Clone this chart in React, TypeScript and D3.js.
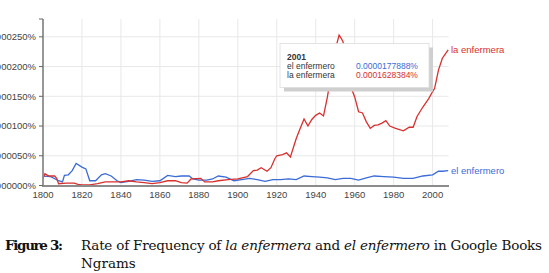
import { scaleLinear, line } from "d3";

const width = 549;
const height = 273;

// Google Books Ngram values, in percent
const redYears = [
  1800, 1801, 1803, 1806, 1807, 1808, 1812, 1816, 1818, 1820, 1824, 1828, 1832, 1836, 1840,
  1844, 1848, 1852, 1856, 1860, 1864, 1868, 1871, 1874, 1876, 1881, 1883, 1887, 1890, 1895,
  1900, 1905, 1908, 1910, 1912, 1915, 1917, 1919, 1920, 1923, 1925, 1927, 1930, 1932, 1934,
  1936, 1938, 1940, 1942, 1944, 1946, 1948, 1950, 1952, 1953, 1954, 1956, 1958, 1960, 1962,
  1964, 1966, 1968, 1970, 1972, 1974, 1976, 1978, 1981, 1985, 1988, 1990, 1992, 1995, 1998,
  2000, 2001, 2003, 2005, 2008,
];
const redValues = [
  0.000012, 0.00002, 0.000016, 0.000016, 0.000012, 0.000003, 0.000004, 0.000004, 0.000002,
  0.000001, 0.000001, 0.000003, 0.000006, 0.000006, 0.000006, 0.000008, 0.000006, 0.000005,
  0.000003, 0.000005, 0.000008, 0.000008, 0.000005, 0.000004, 0.000011, 0.000012, 0.000006,
  0.000006, 0.000008, 0.00001, 0.000011, 0.000015, 0.000025, 0.000026, 0.00003, 0.000024,
  0.00003, 0.000045, 0.00005, 0.000052, 0.000055, 0.000048, 0.000079, 0.000096, 0.000112,
  0.0001, 0.000111, 0.000118, 0.000122, 0.000117, 0.000149, 0.000189, 0.000228, 0.000253,
  0.000248, 0.000242, 0.000205, 0.000166, 0.000149, 0.000124, 0.000122, 0.000107, 0.000096,
  0.000101, 0.000102, 0.000105, 0.000109, 0.0001, 0.000096, 0.000092, 0.000098, 0.000098,
  0.000116, 0.000132, 0.000146, 0.000158, 0.000163, 0.000194, 0.000214, 0.000228,
];

const blueYears = [
  1800, 1804, 1808, 1810, 1811, 1813, 1815, 1817, 1820, 1822, 1824, 1827, 1830, 1832, 1835,
  1838, 1840, 1844, 1848, 1852, 1856, 1860, 1864, 1868, 1871, 1875, 1877, 1880, 1884, 1887,
  1890, 1894, 1898, 1902, 1906, 1910, 1914, 1918, 1922, 1926, 1930, 1934, 1938, 1942, 1946,
  1950, 1954, 1958, 1962, 1966, 1970, 1975, 1980, 1985, 1990, 1995, 2000, 2003, 2005, 2008,
];
const blueValues = [
  0.000016, 0.000015, 0.000008, 0.000006, 0.000017, 0.000018, 0.000025, 0.000037, 0.000031,
  0.000028, 0.000008, 0.000008, 0.000018, 0.00002, 0.000016, 0.000008, 0.000005, 0.000007,
  0.00001, 0.000009, 0.000007, 0.000008, 0.000017, 0.000015, 0.000016, 0.000016, 0.000011,
  0.000009, 0.000009, 0.000011, 0.000016, 0.000014, 0.000008, 0.00001, 0.000012, 0.00001,
  0.000007, 0.00001, 0.00001, 0.000011, 0.00001, 0.000016, 0.000015, 0.000014, 0.000013,
  0.00001, 0.000012, 0.000012, 0.000009, 0.000013, 0.000016, 0.000015, 0.000014, 0.000012,
  0.000012, 0.000016, 0.000018, 0.000024, 0.000024, 0.000025,
];

const yTicks = [0, 0.00005, 0.0001, 0.00015, 0.0002, 0.00025];
const xTicks = [1800, 1820, 1840, 1860, 1880, 1900, 1920, 1940, 1960, 1980, 2000];

const redColor = "#d8302e";
const blueColor = "#3b6bd6";
const sans = "'Liberation Sans', Arial, sans-serif";
const serif = "'DejaVu Serif', serif";

const x = scaleLinear().domain([1800, 2008]).range([43, 448.2]);
const y = scaleLinear().domain([0, 0.00028]).range([185.5, 19]);

const toPoints = (years: number[], values: number[]) =>
  years.map((yr, i) => [yr, values[i]] as [number, number]);

const path = line<[number, number]>()
  .x((d) => x(d[0]))
  .y((d) => y(d[1]));

export default function App() {
  const red = toPoints(redYears, redValues);
  const blue = toPoints(blueYears, blueValues);
  const redLast = red[red.length - 1];
  const blueLast = blue[blue.length - 1];

  return (
    <svg
      width={width}
      height={height}
      style={{ position: "absolute", left: 0, top: 0, background: "#fff" }}
    >
      {/* grid */}
      {xTicks.slice(1).map((t) => (
        <line key={t} x1={x(t)} x2={x(t)} y1={19} y2={185.5} stroke="#e8e8e8" />
      ))}
      {yTicks.slice(1).map((t) => (
        <line key={t} x1={43} x2={448.5} y1={y(t)} y2={y(t)} stroke="#e8e8e8" />
      ))}

      {/* series */}
      <path d={path(blue) ?? ""} fill="none" stroke={blueColor} strokeWidth={1.3} />
      <path d={path(red) ?? ""} fill="none" stroke={redColor} strokeWidth={1.3} />

      {/* axes */}
      <line x1={43} x2={43} y1={19} y2={186} stroke="#8c8c8c" strokeWidth={1.8} />
      <line x1={42} x2={449} y1={186} y2={186} stroke="#8c8c8c" strokeWidth={1.8} />
      <line x1={39} x2={43} y1={19} y2={19} stroke="#666" />
      {yTicks.map((t) => (
        <g key={t}>
          <line x1={39} x2={43} y1={y(t)} y2={y(t)} stroke="#666" />
          <text
            x={36}
            y={y(t)}
            dy="0.35em"
            textAnchor="end"
            fontFamily={sans}
            fontSize={9.5}
            fill="#444"
          >
            {t.toFixed(6) + "%"}
          </text>
        </g>
      ))}
      {xTicks.map((t) => (
        <text
          key={t}
          x={x(t)}
          y={198}
          textAnchor="middle"
          fontFamily={sans}
          fontSize={9.5}
          fill="#444"
        >
          {t}
        </text>
      ))}

      {/* series labels */}
      <text
        x={451}
        y={y(redLast[1])}
        dy="0.35em"
        fontFamily={sans}
        fontSize={9.5}
        fill={redColor}
      >
        la enfermera
      </text>
      <text
        x={451}
        y={y(blueLast[1])}
        dy="0.35em"
        fontFamily={sans}
        fontSize={9.5}
        fill={blueColor}
      >
        el enfermero
      </text>

      {/* tooltip */}
      <rect x={284} y={47.5} width={149} height={44} fill="#cfcfcf" />
      <rect x={280} y={43.5} width={149} height={44} fill="#fff" stroke="#ddd" strokeWidth={0.8} />
      <text x={287} y={59.5} fontFamily={sans} fontSize={8.5} fontWeight="bold" fill="#333">
        2001
      </text>
      <text x={287} y={69} fontFamily={sans} fontSize={8.5} fill="#333">
        el enfermero
      </text>
      <text x={287} y={78} fontFamily={sans} fontSize={8.5} fill="#333">
        la enfermera
      </text>
      <text x={356} y={69} fontFamily={sans} fontSize={8.5} fill={blueColor}>
        0.0000177888%
      </text>
      <text x={356} y={78} fontFamily={sans} fontSize={8.5} fill={redColor}>
        0.0001628384%
      </text>

      {/* caption */}
      <text x={5} y={250} fontFamily={serif} fontSize={13.5} fill="#111" textLength={58}>
        <tspan fontWeight="bold">Figure 3:</tspan>
      </text>
      <text x={81} y={250} fontFamily={serif} fontSize={13.5} fill="#111" textLength={461}>
        Rate of Frequency of <tspan fontStyle="italic">la enfermera</tspan> and{" "}
        <tspan fontStyle="italic">el enfermero</tspan> in Google Books
      </text>
      <text x={81} y={268} fontFamily={serif} fontSize={13.5} fill="#111">
        Ngrams
      </text>
    </svg>
  );
}
